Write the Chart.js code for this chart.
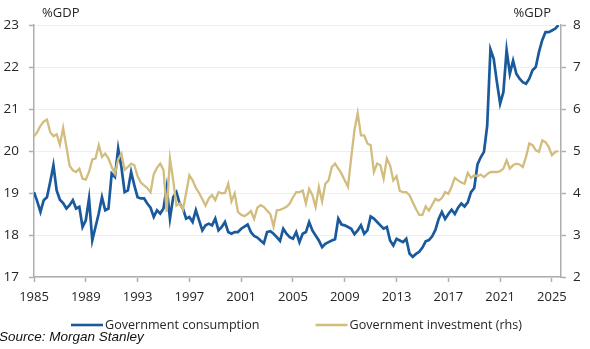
<!DOCTYPE html>
<html>
<head>
<meta charset="utf-8">
<script src="https://cdn.jsdelivr.net/npm/chart.js@4.4.1/dist/chart.umd.min.js"></script>
<style>
  html, body { margin: 0; padding: 0; background: #ffffff; }
  #wrap { width: 590px; height: 349px; position: relative; }
</style>
</head>
<body>
<div id="wrap"><canvas id="chart" width="590" height="349"></canvas></div>
<script>
// Quarterly series, first observation is 1985 Q1
const startYear = 1985;

// Government consumption, % of GDP (left axis)
const consumption = [
  19.02, 18.80, 18.55, 18.83,  // 1985
  18.90, 19.26, 19.66, 19.06,  // 1986
  18.84, 18.76, 18.63, 18.71,  // 1987
  18.83, 18.63, 18.67, 18.19,  // 1988
  18.35, 18.87, 17.87, 18.19,  // 1989
  18.51, 18.90, 18.59, 18.63,  // 1990
  19.46, 19.38, 20.06, 19.62,  // 1991
  19.02, 19.06, 19.50, 19.18,  // 1992
  18.90, 18.87, 18.87, 18.75,  // 1993
  18.65, 18.43, 18.59, 18.51,  // 1994
  18.63, 19.14, 18.39, 18.90,  // 1995
  19.02, 18.75, 18.63, 18.39,  // 1996
  18.43, 18.31, 18.59, 18.35,  // 1997
  18.11, 18.23, 18.27, 18.23,  // 1998
  18.39, 18.11, 18.19, 18.31,  // 1999
  18.07, 18.03, 18.07, 18.07,  // 2000
  18.15, 18.20, 18.25, 18.07,  // 2001
  17.98, 17.94, 17.87, 17.80,  // 2002
  18.07, 18.09, 18.03, 17.95,  // 2003
  17.86, 18.15, 18.03, 17.95,  // 2004
  17.91, 18.07, 17.83, 18.03,  // 2005
  18.07, 18.31, 18.11, 17.99,  // 2006
  17.87, 17.71, 17.79, 17.83,  // 2007
  17.87, 17.90, 18.39, 18.25,  // 2008
  18.23, 18.19, 18.15, 18.02,  // 2009
  18.11, 18.23, 18.03, 18.11,  // 2010
  18.44, 18.39, 18.31, 18.23,  // 2011
  18.15, 18.19, 17.87, 17.75,  // 2012
  17.91, 17.87, 17.83, 17.91,  // 2013
  17.56, 17.48, 17.55, 17.60,  // 2014
  17.70, 17.85, 17.88, 17.97,  // 2015
  18.12, 18.38, 18.55, 18.38,  // 2016
  18.50, 18.60, 18.50, 18.65,  // 2017
  18.75, 18.68, 18.78, 19.02,  // 2018
  19.12, 19.68, 19.85, 19.98,  // 2019
  20.60, 22.42, 22.20, 21.64,  // 2020
  21.13, 21.40, 22.40, 21.84,  // 2021
  22.15, 21.84, 21.72, 21.64,  // 2022
  21.60, 21.72, 21.92, 22.00,  // 2023
  22.36, 22.64, 22.83, 22.83,  // 2024
  22.87, 22.91, 23.00          // 2025
];

// Government investment, % of GDP (right axis)
const investment = [
  5.35, 5.45, 5.60, 5.70,  // 1985
  5.75, 5.45, 5.35, 5.40,  // 1986
  5.15, 5.55, 5.10, 4.65,  // 1987
  4.54, 4.50, 4.58, 4.34,  // 1988
  4.32, 4.50, 4.80, 4.82,  // 1989
  5.14, 4.86, 4.94, 4.82,  // 1990
  4.62, 4.46, 4.80, 4.94,  // 1991
  4.55, 4.62, 4.70, 4.66,  // 1992
  4.40, 4.25, 4.18, 4.12,  // 1993
  4.02, 4.45, 4.60, 4.70,  // 1994
  4.55, 3.55, 4.82, 4.30,  // 1995
  3.70, 3.75, 3.60, 4.00,  // 1996
  4.42, 4.30, 4.12, 4.00,  // 1997
  3.85, 3.70, 3.87, 3.95,  // 1998
  3.83, 4.02, 3.99, 4.00,  // 1999
  4.22, 3.80, 3.99, 3.55,  // 2000
  3.48, 3.45, 3.50, 3.57,  // 2001
  3.38, 3.65, 3.71, 3.67,  // 2002
  3.58, 3.50, 3.20, 3.59,  // 2003
  3.60, 3.63, 3.67, 3.75,  // 2004
  3.90, 4.02, 4.02, 4.06,  // 2005
  3.75, 4.10, 3.95, 3.67,  // 2006
  4.14, 3.80, 4.22, 4.30,  // 2007
  4.62, 4.70, 4.58, 4.46,  // 2008
  4.30, 4.15, 4.85, 5.50,  // 2009
  5.90, 5.37, 5.37, 5.18,  // 2010
  5.14, 4.50, 4.70, 4.66,  // 2011
  4.34, 4.82, 4.66, 4.30,  // 2012
  4.40, 4.05, 4.02, 4.02,  // 2013
  3.95, 3.78, 3.62, 3.48,  // 2014
  3.48, 3.68, 3.58, 3.72,  // 2015
  3.86, 3.82, 3.88, 4.02,  // 2016
  3.98, 4.15, 4.36, 4.30,  // 2017
  4.25, 4.22, 4.48, 4.36,  // 2018
  4.42, 4.40, 4.44, 4.38,  // 2019
  4.45, 4.50, 4.50, 4.50,  // 2020
  4.52, 4.58, 4.78, 4.58,  // 2021
  4.66, 4.70, 4.68, 4.62,  // 2022
  4.86, 5.18, 5.14, 5.02,  // 2023
  4.98, 5.25, 5.21, 5.10,  // 2024
  4.90, 4.98, 5.00         // 2025
];

// Axis labelling
const xTickYears = [1985, 1989, 1993, 1997, 2001, 2005, 2009, 2013, 2017, 2021, 2025];
const leftTicks = [17, 18, 19, 20, 21, 22, 23];
const rightTicks = [2, 3, 4, 5, 6, 7, 8];
const unitLabel = '%GDP';
const seriesNames = ['Government consumption', 'Government investment (rhs)'];
const sourceNote = 'Source: Morgan Stanley';

const BLUE = '#1A5A9C';
const GOLD = '#D2BC7E';
const AXIS = '#AEAEAE';
const GRID = '#EFEFEF';
const TEXT = '#262626';
const FONT = '"Open Sans", "DejaVu Sans", sans-serif';

const toPoints = arr => arr.map((v, i) => ({ x: startYear + i / 4, y: v }));

// Unit captions, legend and source line
const annotations = {
  id: 'annotations',
  afterDraw(chart) {
    const ctx = chart.ctx;
    ctx.save();
    ctx.fillStyle = TEXT;
    ctx.font = '13px ' + FONT;
    ctx.textBaseline = 'middle';
    ctx.textAlign = 'left';
    ctx.fillText(unitLabel, 42, 13);
    ctx.textAlign = 'right';
    ctx.fillText(unitLabel, 551, 13);

    // legend row
    ctx.textAlign = 'left';
    ctx.font = '12.6px ' + FONT;
    let x = 71;
    const y = 325;
    chart.data.datasets.forEach((ds) => {
      ctx.strokeStyle = ds.borderColor;
      ctx.lineWidth = 2.6;
      ctx.beginPath();
      ctx.moveTo(x, y);
      ctx.lineTo(x + 32, y);
      ctx.stroke();
      ctx.fillStyle = TEXT;
      ctx.fillText(ds.label, x + 34, y);
      x += 34 + ctx.measureText(ds.label).width + 56;
    });

    ctx.font = 'italic 13.5px "Liberation Sans", Arial, sans-serif';
    ctx.fillStyle = '#111111';
    ctx.fillText(sourceNote, -1, 337);
    ctx.restore();
  }
};

new Chart(document.getElementById('chart'), {
  type: 'line',
  data: {
    datasets: [
      {
        label: seriesNames[0],
        data: toPoints(consumption),
        yAxisID: 'y',
        borderColor: BLUE,
        backgroundColor: BLUE,
        borderWidth: 2.7,
        pointRadius: 0,
        tension: 0,
        order: 1
      },
      {
        label: seriesNames[1],
        data: toPoints(investment),
        yAxisID: 'y2',
        borderColor: GOLD,
        backgroundColor: GOLD,
        borderWidth: 2.3,
        pointRadius: 0,
        tension: 0,
        order: 0
      }
    ]
  },
  options: {
    responsive: false,
    animation: false,
    devicePixelRatio: 1,
    layout: { padding: { top: 25, bottom: 30, left: 0, right: 0 } },
    plugins: {
      legend: { display: false },
      tooltip: { enabled: false }
    },
    scales: {
      x: {
        type: 'linear',
        min: startYear,
        max: 2025.7,
        afterBuildTicks: s => { s.ticks = xTickYears.map(v => ({ value: v })); },
        afterFit: s => { s.height = 42; },
        grid: { drawOnChartArea: false, drawTicks: true, tickLength: 5, tickColor: AXIS, tickWidth: 1.5 },
        border: { color: AXIS, width: 1.5 },
        ticks: {
          color: TEXT,
          font: { family: FONT, size: 13 },
          padding: 7,
          maxRotation: 0,
          autoSkip: false,
          callback: v => String(v)
        }
      },
      y: {
        position: 'left',
        min: leftTicks[0],
        max: leftTicks[leftTicks.length - 1],
        afterBuildTicks: s => { s.ticks = leftTicks.map(v => ({ value: v })); },
        afterFit: s => { s.width = 34; },
        grid: { color: GRID, lineWidth: 1, drawTicks: true, tickLength: 5, tickColor: AXIS, tickWidth: 1.5 },
        border: { color: AXIS, width: 1.5 },
        ticks: { color: TEXT, font: { family: FONT, size: 13.5 }, padding: 10 }
      },
      y2: {
        position: 'right',
        min: rightTicks[0],
        max: rightTicks[rightTicks.length - 1],
        afterBuildTicks: s => { s.ticks = rightTicks.map(v => ({ value: v })); },
        afterFit: s => { s.width = 29; },
        grid: { drawOnChartArea: false, drawTicks: true, tickLength: 5, tickColor: AXIS, tickWidth: 1.5 },
        border: { color: AXIS, width: 1.5 },
        ticks: { color: TEXT, font: { family: FONT, size: 13.5 }, padding: 7 }
      }
    }
  },
  plugins: [annotations]
});
</script>
</body>
</html>
